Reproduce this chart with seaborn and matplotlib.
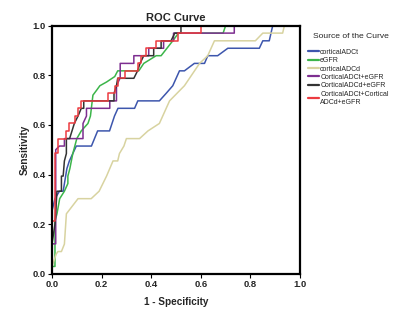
import numpy as np
import pandas as pd
import matplotlib
matplotlib.use("Agg")
import matplotlib.pyplot as plt
import seaborn as sns

# ROC curve vertices (1 - specificity, sensitivity)
adct_x = [0, 0, 0.012, 0.03, 0.045, 0.06, 0.07, 0.098, 0.159, 0.184, 0.199, 0.232, 0.252, 0.266, 0.333, 0.346, 0.433,
          0.46, 0.487, 0.514, 0.534, 0.574, 0.615, 0.628, 0.668, 0.709, 0.836, 0.85, 0.876, 0.89, 1.0]
adct_y = [0, 0.254, 0.303, 0.333, 0.333, 0.424, 0.455, 0.515, 0.515, 0.576, 0.576, 0.576, 0.636, 0.667, 0.667, 0.697, 0.697,
          0.727, 0.758, 0.818, 0.818, 0.848, 0.848, 0.879, 0.879, 0.909, 0.909, 0.939, 0.939, 1.0, 1.0]

egfr_x = [0, 0, 0.012, 0.012, 0.02, 0.031, 0.05, 0.064, 0.064, 0.072, 0.078, 0.084, 0.1, 0.118, 0.145, 0.155, 0.165,
          0.18, 0.193, 0.22, 0.253, 0.265, 0.35, 0.37, 0.42, 0.44, 0.487, 0.51, 0.69, 0.70, 1.0]
egfr_y = [0, 0.03, 0.03, 0.212, 0.242, 0.303, 0.333, 0.364, 0.394, 0.424, 0.455, 0.485, 0.545, 0.576, 0.606, 0.636, 0.72,
          0.74, 0.758, 0.773, 0.795, 0.818, 0.818, 0.848, 0.879, 0.879, 0.939, 0.97, 0.97, 1.0, 1.0]

adcd_x = [0, 0, 0.017, 0.024, 0.038, 0.05, 0.058, 0.105, 0.158, 0.19, 0.22, 0.246, 0.265, 0.272, 0.29, 0.3, 0.353,
          0.387, 0.433, 0.474, 0.534, 0.595, 0.628, 0.655, 0.82, 0.85, 0.93, 0.937, 1.0]
adcd_y = [0, 0.03, 0.08, 0.09, 0.09, 0.12, 0.242, 0.303, 0.303, 0.333, 0.394, 0.455, 0.455, 0.485, 0.515, 0.545, 0.545,
          0.576, 0.606, 0.697, 0.758, 0.848, 0.879, 0.939, 0.939, 0.97, 0.97, 1.0, 1.0]

adct_egfr_x = [0, 0, 0.015, 0.015, 0.03, 0.05, 0.05, 0.125, 0.125, 0.139, 0.139, 0.233, 0.233, 0.26, 0.26, 0.275,
               0.275, 0.33, 0.33, 0.39, 0.39, 0.45, 0.45, 0.49, 0.49, 0.735, 0.735, 1.0]
adct_egfr_y = [0, 0.121, 0.121, 0.5, 0.515, 0.515, 0.545, 0.545, 0.606, 0.636, 0.667, 0.667, 0.697, 0.697, 0.758, 0.79,
               0.848, 0.848, 0.879, 0.879, 0.909, 0.909, 0.939, 0.939, 0.97, 0.97, 1.0, 1.0]

adcd_egfr_x = [0, 0, 0.012, 0.02, 0.038, 0.038, 0.045, 0.05, 0.058, 0.058, 0.071, 0.09, 0.105, 0.118, 0.128, 0.128,
               0.25, 0.25, 0.26, 0.265, 0.33, 0.345, 0.355, 0.37, 0.41, 0.41, 0.44, 0.44, 0.48, 0.495, 0.52, 0.52, 1.0]
adcd_egfr_y = [0, 0.121, 0.2, 0.333, 0.333, 0.394, 0.394, 0.455, 0.485, 0.545, 0.545, 0.606, 0.636, 0.667, 0.667, 0.697,
               0.697, 0.727, 0.758, 0.788, 0.788, 0.818, 0.848, 0.879, 0.879, 0.909, 0.909, 0.939, 0.939, 0.97, 0.97, 1.0, 1.0]

all_x = [0, 0, 0.011, 0.011, 0.024, 0.024, 0.058, 0.058, 0.068, 0.068, 0.091, 0.091, 0.105, 0.105, 0.118, 0.118,
         0.226, 0.226, 0.253, 0.253, 0.266, 0.266, 0.293, 0.293, 0.345, 0.345, 0.36, 0.36, 0.38, 0.38, 0.42, 0.42,
         0.51, 0.51, 0.60, 0.60, 1.0]
all_y = [0, 0.212, 0.212, 0.485, 0.485, 0.545, 0.545, 0.576, 0.576, 0.606, 0.606, 0.636, 0.636, 0.667, 0.667, 0.697,
         0.697, 0.727, 0.727, 0.758, 0.758, 0.788, 0.788, 0.818, 0.818, 0.848, 0.848, 0.879, 0.879, 0.909, 0.909, 0.939,
         0.939, 0.97, 0.97, 1.0, 1.0]

labels = ['corticalADCt', 'eGFR', 'corticalADCd', 'CorticalADCt+eGFR', 'CorticalADCd+eGFR',
          'CorticalADCt+Cortical\nADCd+eGFR']
colors = ['#3d56ad', '#3cb54a', '#d8d3a0', '#7d2e90', '#333333', '#ec3b40']
curves = [(adct_x, adct_y), (egfr_x, egfr_y), (adcd_x, adcd_y), (adct_egfr_x, adct_egfr_y),
          (adcd_egfr_x, adcd_egfr_y), (all_x, all_y)]

frames = []
for lab, (xs, ys) in zip(labels, curves):
    frames.append(pd.DataFrame({'fpr': xs, 'tpr': ys, 'curve': lab, 'order': np.arange(len(xs))}))
df = pd.concat(frames, ignore_index=True)

sns.set_style('white')
plt.rcParams['font.family'] = ['Liberation Sans', 'DejaVu Sans']

fig = plt.figure(figsize=(4.0, 3.13), dpi=100)
ax = fig.add_axes([0.13, 0.125, 0.62, 0.793])

sns.lineplot(data=df, x='fpr', y='tpr', hue='curve', hue_order=labels, palette=dict(zip(labels, colors)),
             sort=False, estimator=None, units='curve', linewidth=1.1, ax=ax)

ax.set_xlim(0, 1)
ax.set_ylim(0, 1)
ticks = [0.0, 0.2, 0.4, 0.6, 0.8, 1.0]
ax.set_xticks(ticks)
ax.set_yticks(ticks)
ax.set_xticklabels([f'{t:.1f}' for t in ticks], fontsize=6.8, fontweight='bold')
ax.set_yticklabels([f'{t:.1f}' for t in ticks], fontsize=6.8, fontweight='bold')
ax.tick_params(axis='both', direction='out', length=3, width=0.8, color='black', pad=1.5,
               bottom=True, left=True)
for s in ax.spines.values():
    s.set_color('black')
    s.set_linewidth(1.6)

ax.set_xlabel('1 - Specificity', fontsize=7.2, fontweight='bold', labelpad=6)
ax.set_ylabel('Sensitivity', fontsize=7.2, fontweight='bold', labelpad=2)
ax.set_title('ROC Curve', fontsize=8, fontweight='bold', pad=3)

leg = ax.legend(loc='upper left', bbox_to_anchor=(1.02, 0.98), frameon=False, title='Source of the Curve',
                fontsize=5.0, title_fontsize=6.1, handlelength=1.6, handletextpad=0.2, labelspacing=0.2,
                borderaxespad=0, alignment='right')
leg._legend_box.sep = 6
for line in leg.get_lines():
    line.set_linewidth(1.6)

fig.savefig('out.png', dpi=100, facecolor='white')
plt.close()
